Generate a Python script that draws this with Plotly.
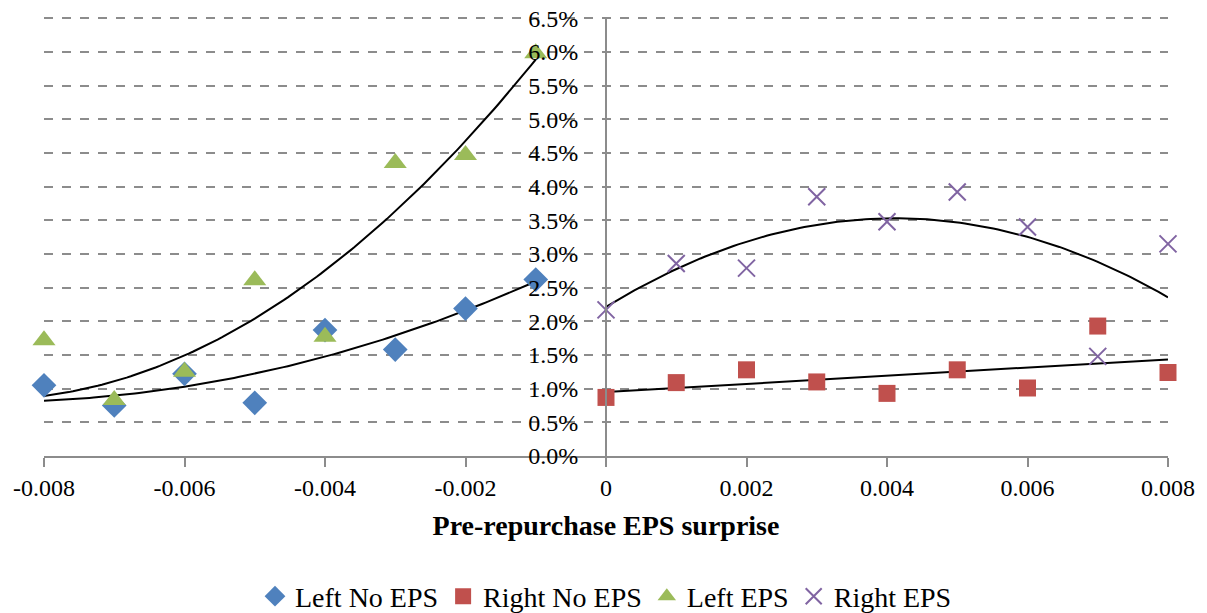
import numpy as np
import plotly.graph_objects as go

x_left = [-0.008, -0.007, -0.006, -0.005, -0.004, -0.003, -0.002, -0.001]
x_right = [0.0, 0.001, 0.002, 0.003, 0.004, 0.005, 0.006, 0.007, 0.008]

left_no_eps = [0.0105, 0.0075, 0.0122, 0.0079, 0.0187, 0.0158, 0.0219, 0.0262]
left_eps = [0.0172, 0.0083, 0.0125, 0.0261, 0.0177, 0.0435, 0.0447, 0.0598]
right_no_eps = [0.0087, 0.0109, 0.0128, 0.0110, 0.0093, 0.0128, 0.0101, 0.0193, 0.0124]
right_eps = [0.0217, 0.0286, 0.0279, 0.0385, 0.0348, 0.0392, 0.0340, 0.0148, 0.0315]

# trendline values (left side)
trend_x_left = [-0.008, -0.006, -0.005, -0.004, -0.003, -0.002, -0.001]
trend_left_no_eps = [0.0082, 0.0103, 0.0123, 0.0147, 0.0178, 0.0217, 0.0259]
trend_left_eps = [0.0087, 0.0153, 0.0204, 0.0278, 0.0362, 0.0459, 0.0595]

xtick_vals = [-0.008, -0.006, -0.004, -0.002, 0, 0.002, 0.004, 0.006, 0.008]
xtick_text = ["-0.008", "-0.006", "-0.004", "-0.002", "0", "0.002", "0.004", "0.006", "0.008"]
ytick_vals = [0.0, 0.005, 0.010, 0.015, 0.020, 0.025, 0.030, 0.035, 0.040, 0.045, 0.050, 0.055, 0.060, 0.065]
ytick_text = ["0.0%", "0.5%", "1.0%", "1.5%", "2.0%", "2.5%", "3.0%", "3.5%", "4.0%", "4.5%",
              "5.0%", "5.5%", "6.0%", "6.5%"]

FONT = "Liberation Serif"

fig = go.Figure()

def poly_fit(x, y, deg):
    c = np.polyfit(x, y, deg)
    xs = np.linspace(min(x), max(x), 120)
    return xs, np.polyval(c, xs)

for xs, ys in [poly_fit(trend_x_left, trend_left_no_eps, 2), poly_fit(trend_x_left, trend_left_eps, 2),
               poly_fit(x_right, right_no_eps, 1), poly_fit(x_right, right_eps, 2)]:
    fig.add_trace(go.Scatter(x=xs, y=ys, mode="lines", line=dict(color="black", width=2),
                             showlegend=False, hoverinfo="skip", cliponaxis=False))

fig.add_trace(go.Scatter(x=x_left, y=left_no_eps, mode="markers", name="Left No EPS",
                         marker=dict(symbol="diamond", size=19, color="#4F81BD"), cliponaxis=False))
fig.add_trace(go.Scatter(x=x_right, y=right_no_eps, mode="markers", name="Right No EPS",
                         marker=dict(symbol="square", size=17, color="#C0504D"), cliponaxis=False))
fig.add_trace(go.Scatter(x=x_left, y=left_eps, mode="markers", name="Left EPS",
                         marker=dict(symbol="triangle-up", size=20, color="#9BBB59"), cliponaxis=False))
fig.add_trace(go.Scatter(x=x_right, y=right_eps, mode="markers", name="Right EPS",
                         marker=dict(symbol="x-thin-open", size=17, color="#8064A2",
                                     line=dict(width=2, color="#8064A2")), cliponaxis=False))

fig.update_layout(
    width=1207, height=613,
    margin=dict(l=44, r=39, t=17, b=157, autoexpand=False),
    paper_bgcolor="white", plot_bgcolor="white",
    font=dict(family=FONT, size=24, color="black"),
    xaxis=dict(range=[-0.008, 0.008], tickvals=xtick_vals, ticktext=xtick_text,
               showgrid=False, zeroline=False, showline=True, linecolor="#8c8c8c", linewidth=2,
               ticks="outside", ticklen=9, tickwidth=2, tickcolor="#8c8c8c",
               tickfont=dict(family=FONT, size=24),
               title=dict(text="<b>Pre-repurchase EPS surprise</b>", font=dict(family=FONT, size=28),
                          standoff=16)),
    yaxis=dict(range=[0, 0.0652], tickvals=ytick_vals, ticktext=ytick_text,
               anchor="free", position=0.5, ticklabeloverflow="allow",
               showgrid=True, gridcolor="#8c8c8c", gridwidth=2, griddash="dash",
               zeroline=False, showline=True, linecolor="#8c8c8c", linewidth=2,
               ticks="", ticklabelstandoff=22, tickfont=dict(family=FONT, size=24)),
    legend=dict(orientation="h", x=0.5, xanchor="center", y=-0.32, yanchor="middle",
                font=dict(family=FONT, size=28), itemwidth=30, tracegroupgap=0),
)

# remove the default 8px page margin so the figure fills the window exactly
fig.write_html("out.html", config={"displayModeBar": False},
               post_script="document.body.style.margin='0';")
